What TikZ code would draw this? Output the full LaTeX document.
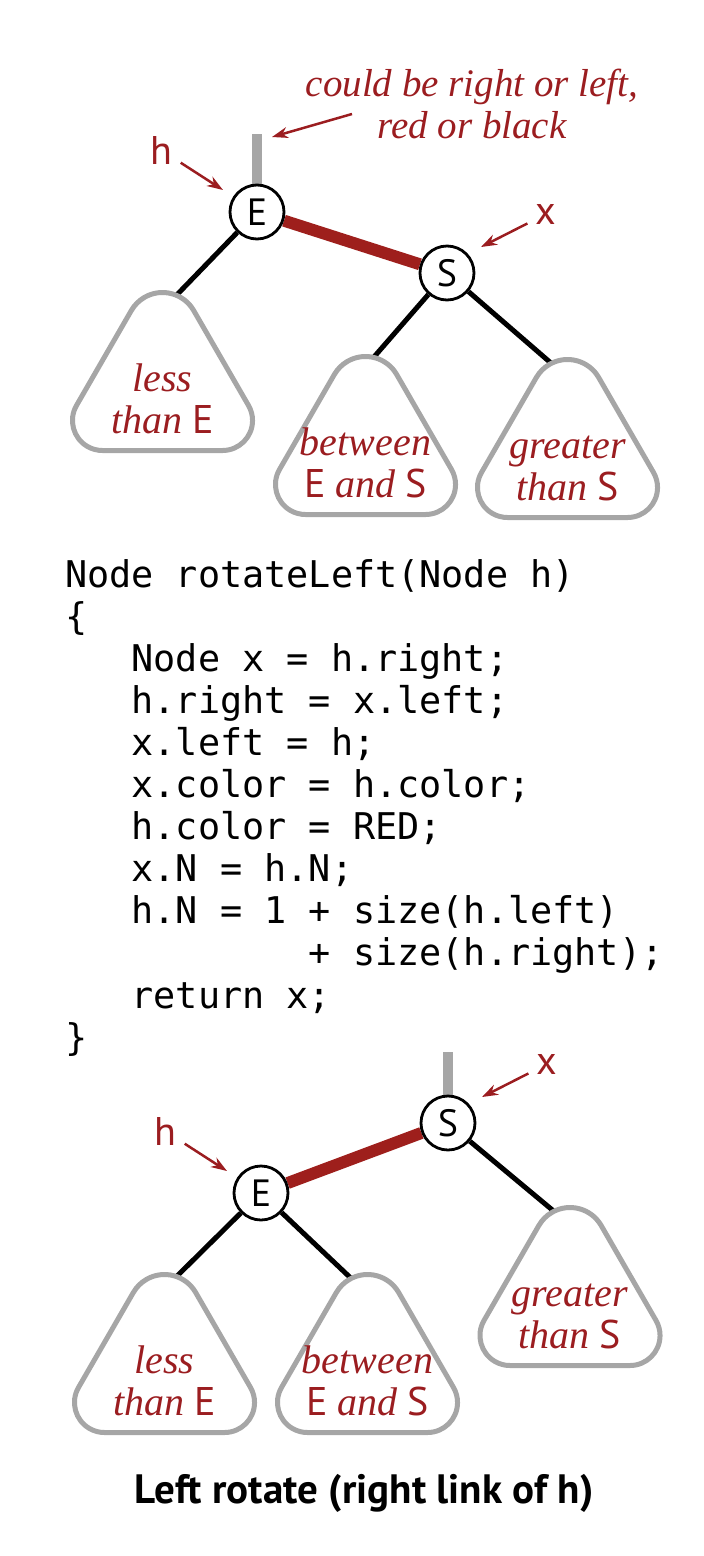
\documentclass[tikz,border=0pt]{standalone}
\usepackage{fontspec}
\setsansfont{PT Sans}
\newfontfamily\codefont{DejaVu Sans Mono}
\newfontfamily\itfont{Liberation Serif}
\usetikzlibrary{arrows.meta,backgrounds}
\definecolor{bookred}{RGB}{155,29,32}
\definecolor{edgered}{RGB}{158,31,28}
\definecolor{stubgray}{RGB}{166,166,166}
\newcommand{\subtri}[2]{%
\begin{scope}[shift={(#1,#2)},y=1pt]
\draw[tri] (-60.04,0) -- (60.04,0) arc[start angle=-90,end angle=30,radius=30pt] -- (31.18,140) arc[start angle=30,end angle=150,radius=36pt] -- (-86.02,45) arc[start angle=150,end angle=270,radius=30pt] -- cycle;
\end{scope}}
\newcommand{\sfE}{{\sffamily\upshape E}}
\newcommand{\sfS}{{\sffamily\upshape S}}
\begin{document}
\begin{tikzpicture}[x=1pt,y=-1pt,
  tnode/.style={circle, draw=black, line width=2.8pt, fill=white, minimum size=54pt, inner sep=0pt, font=\sffamily\fontsize{38}{38}\selectfont},
  link/.style={line width=5pt, black},
  redlink/.style={line width=12pt, edgered},
  stub/.style={line width=10pt, stubgray},
  ptr/.style={bookred, line width=2.5pt, -{Stealth[length=16pt,width=11pt]}},
  lbl/.style={text=bookred, font=\sffamily\fontsize{40}{40}\selectfont, inner sep=1pt},
  tri/.style={draw=stubgray, line width=5pt, fill=white},
  ttext/.style={text=bookred, font=\itfont\itshape\fontsize{40}{40}\selectfont, anchor=base, inner sep=0pt},
  captext/.style={text=bookred, font=\itfont\itshape\fontsize{39}{39}\selectfont, anchor=base, inner sep=0pt},
  code/.style={font=\codefont\fontsize{36.8}{42}\selectfont, anchor=base west, inner sep=0pt},
  titletext/.style={font=\sffamily\bfseries\fontsize{41}{41}\selectfont, anchor=base, inner sep=0pt}]
\useasboundingbox (0,0) rectangle (704,1556);

% ---------- top tree ----------
\node[tnode] (E1) at (257,212) {E};
\node[tnode] (S1) at (447,273) {S};
\coordinate (stub1) at (257,134);
\coordinate (L1) at (168,304);
\coordinate (M1) at (367,365);
\coordinate (R1) at (559,370);
\begin{scope}[on background layer]
\draw[stub] (stub1) -- (E1);
\draw[redlink] (E1) -- (S1);
\draw[link] (E1) -- (L1);
\draw[link] (S1) -- (M1);
\draw[link] (S1) -- (R1);
\end{scope}
\subtri{162.5}{450.5}
\subtri{365.5}{514.5}
\subtri{567.5}{517.5}
\node[ttext] (t1a) at (162.5,391) {less};
\node[ttext] (t1b) at (162.5,433) {than \sfE};
\node[ttext] (t2a) at (365.5,455) {between};
\node[ttext] (t2b) at (365.5,497) {\sfE\ and \sfS};
\node[ttext] (t3a) at (567.5,458) {greater};
\node[ttext] (t3b) at (567.5,500) {than \sfS};

\node[captext] (cap1) at (472,96) {could be right or left,};
\node[captext] (cap2) at (472,138) {red or black};
\coordinate (capfrom) at (352,114);
\coordinate (captip) at (272,137);
\draw[ptr] (capfrom) -- (captip);

\node[lbl] (h1) at (161,150) {h};
\coordinate (h1tip) at (223,190);
\draw[ptr, shorten <=9pt] (h1) -- (h1tip);
\node[lbl] (x1) at (546,214) {x};
\coordinate (x1tip) at (481,247);
\draw[ptr, shorten <=8pt] (x1) -- (x1tip);

% ---------- code ----------
\node[code] (c1) at (65,587) {Node rotateLeft(Node h)};
\node[code] (c2) at (65,629.1) {\{};
\node[code] (c3) at (65,671.2) {\phantom{xxx}Node x = h.right;};
\node[code] (c4) at (65,713.3) {\phantom{xxx}h.right = x.left;};
\node[code] (c5) at (65,755.4) {\phantom{xxx}x.left = h;};
\node[code] (c6) at (65,797.5) {\phantom{xxx}x.color = h.color;};
\node[code] (c7) at (65,839.6) {\phantom{xxx}h.color = RED;};
\node[code] (c8) at (65,881.7) {\phantom{xxx}x.N = h.N;};
\node[code] (c9) at (65,923.8) {\phantom{xxx}h.N = 1 + size(h.left)};
\node[code] (c10) at (65,965.9) {\phantom{xxxxxxxxxxx}+ size(h.right);};
\node[code] (c11) at (65,1008) {\phantom{xxx}return x;};
\node[code] (c12) at (65,1050.1) {\}};

% ---------- bottom tree ----------
\node[tnode] (E2) at (261,1193) {E};
\node[tnode] (S2) at (448,1123) {S};
\coordinate (stub2) at (448,1052);
\coordinate (L2) at (169,1284);
\coordinate (M2) at (356,1283);
\coordinate (R2) at (562,1218);
\begin{scope}[on background layer]
\draw[stub] (stub2) -- (S2);
\draw[redlink] (E2) -- (S2);
\draw[link] (E2) -- (L2);
\draw[link] (E2) -- (M2);
\draw[link] (S2) -- (R2);
\end{scope}
\subtri{164.5}{1432.5}
\subtri{367.5}{1432.5}
\subtri{570}{1365.5}
\node[ttext] (b1a) at (164.5,1373) {less};
\node[ttext] (b1b) at (164.5,1415) {than \sfE};
\node[ttext] (b2a) at (367.5,1373) {between};
\node[ttext] (b2b) at (367.5,1415) {\sfE\ and \sfS};
\node[ttext] (b3a) at (570,1306) {greater};
\node[ttext] (b3b) at (570,1348) {than \sfS};

\node[lbl] (h2) at (165,1131) {h};
\coordinate (h2tip) at (227,1171);
\draw[ptr, shorten <=9pt] (h2) -- (h2tip);
\node[lbl] (x2) at (547,1064) {x};
\coordinate (x2tip) at (482,1097);
\draw[ptr, shorten <=8pt] (x2) -- (x2tip);

\node[titletext] (title) at (364,1503) {Left rotate (right link of h)};
\end{tikzpicture}
\end{document}
